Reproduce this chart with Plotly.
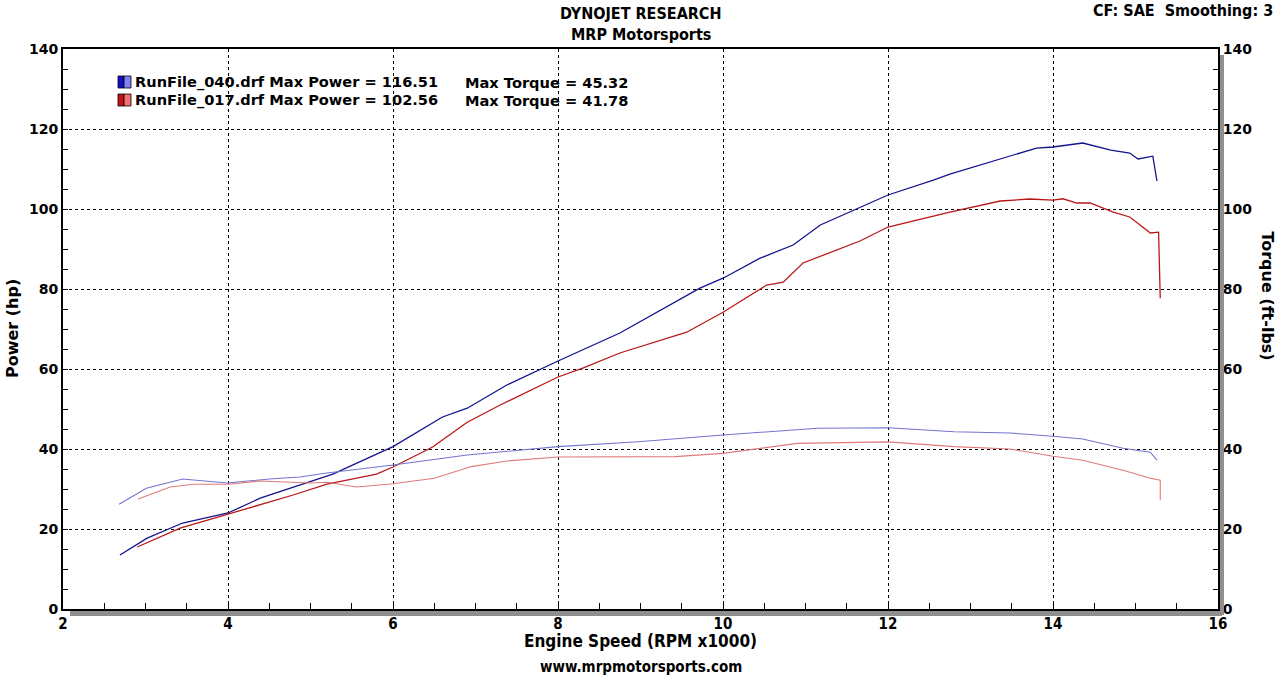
import plotly.graph_objects as go

# Run 040 (blue) - engine speed in RPM x1000
rpm_040_power = [2.69, 3.02, 3.45, 4.0, 4.39, 4.87, 5.27, 6.0, 6.6, 6.9, 7.38, 8.0, 8.75,
                 9.72, 10.0, 10.45, 10.85, 11.18, 11.58, 12.0, 12.55, 12.75, 13.52, 13.8,
                 14.0, 14.36, 14.7, 14.93, 15.03, 15.21, 15.26]
power_040 = [13.5, 17.7, 21.5, 24.0, 27.7, 31.0, 33.7, 40.6, 48.0, 50.2, 56.0, 62.0, 69.0,
             80.2, 82.7, 87.7, 91.0, 96.0, 99.7, 103.5, 107.2, 108.7, 113.5, 115.2,
             115.5, 116.5, 114.7, 114.0, 112.5, 113.2, 107.0]
rpm_040_torque = [2.68, 3.01, 3.45, 3.99, 4.5, 4.87, 5.2, 5.84, 6.0, 6.9, 8.0, 8.97, 10.0,
                  11.15, 12.0, 12.8, 13.48, 14.0, 14.36, 14.85, 15.18, 15.26]
torque_040 = [26.2, 30.2, 32.5, 31.5, 32.5, 33.0, 34.0, 35.6, 36.0, 38.5, 40.6, 41.8, 43.5,
              45.2, 45.3, 44.3, 44.0, 43.2, 42.5, 40.2, 39.2, 37.2]

# Run 017 (red)
rpm_017_power = [2.9, 3.42, 4.0, 4.79, 5.2, 5.8, 6.0, 6.48, 6.9, 7.3, 8.0, 8.3, 8.75, 9.56,
                 10.0, 10.53, 10.73, 10.97, 11.66, 12.0, 12.75, 13.36, 13.72, 14.0, 14.12,
                 14.29, 14.45, 14.6, 14.73, 14.93, 15.18, 15.28, 15.3]
power_017 = [15.5, 20.2, 23.7, 28.5, 31.2, 33.7, 35.5, 40.5, 46.7, 51.0, 58.0, 60.2, 64.0,
             69.2, 74.2, 81.0, 81.7, 86.5, 92.0, 95.5, 99.2, 102.0, 102.5, 102.2, 102.56,
             101.5, 101.5, 100.2, 99.2, 98.0, 94.0, 94.2, 77.7]
rpm_017_torque = [2.91, 3.3, 3.58, 4.0, 4.39, 5.0, 5.2, 5.56, 6.0, 6.5, 6.95, 7.38, 8.0,
                  9.42, 10.0, 10.9, 12.0, 12.8, 13.48, 14.0, 14.36, 14.85, 15.18, 15.3, 15.3]
torque_017 = [27.5, 30.5, 31.2, 31.2, 32.0, 31.5, 31.7, 30.5, 31.3, 32.7, 35.6, 37.0, 38.0,
              38.1, 38.9, 41.4, 41.78, 40.6, 40.0, 38.2, 37.2, 34.7, 32.7, 32.2, 27.2]

run_names = ["RunFile_040.drf", "RunFile_017.drf"]
max_power = [116.51, 102.56]
max_torque = [45.32, 41.78]

TITLE_FONT = "DejaVu Sans Condensed"
TEXT_FONT = "DejaVu Sans"

fig = go.Figure()

# torque lines first (lighter), then power lines on top
fig.add_trace(go.Scatter(x=rpm_040_torque, y=torque_040, mode="lines", yaxis="y2",
                         line=dict(color="#7474d0", width=1.1)))
fig.add_trace(go.Scatter(x=rpm_017_torque, y=torque_017, mode="lines", yaxis="y2",
                         line=dict(color="#e07a7a", width=1.1)))
fig.add_trace(go.Scatter(x=rpm_040_power, y=power_040, mode="lines",
                         line=dict(color="#14148c", width=1.3)))
fig.add_trace(go.Scatter(x=rpm_017_power, y=power_017, mode="lines",
                         line=dict(color="#b81818", width=1.3)))

tick_font = dict(family=TEXT_FONT, size=14, color="black", weight="bold")

fig.update_layout(
    width=1280,
    height=676,
    margin=dict(l=63, r=62, t=49, b=67),
    paper_bgcolor="white",
    plot_bgcolor="white",
    showlegend=False,
    xaxis=dict(
        range=[2, 16], dtick=2, showgrid=True, gridcolor="black", griddash="3px,3px",
        gridwidth=1, zeroline=False, showline=True, linecolor="black", linewidth=2,
        mirror=True, ticks="inside", ticklen=6, tickcolor="black",
        minor=dict(dtick=0.5, ticks="inside", ticklen=6, tickcolor="black", showgrid=False),
        tickfont=dict(family=TITLE_FONT, size=15, color="black", weight="bold"),
    ),
    yaxis=dict(
        range=[0, 140], dtick=20, showgrid=True, gridcolor="black", griddash="3px,3px",
        gridwidth=1, zeroline=False, showline=True, linecolor="black", linewidth=2,
        ticks="inside", ticklen=5, tickcolor="black",
        minor=dict(dtick=5, ticks="inside", ticklen=5, tickcolor="black", showgrid=False),
        tickfont=tick_font,
    ),
    yaxis2=dict(
        range=[0, 140], dtick=20, overlaying="y", side="right", showgrid=False,
        zeroline=False, showline=True, linecolor="black", linewidth=2,
        ticks="inside", ticklen=5, tickcolor="black",
        minor=dict(dtick=5, ticks="inside", ticklen=5, tickcolor="black"),
        tickfont=tick_font,
    ),
)

# gray drop shadow along bottom and right edges (empty annotation boxes)
shadow = dict(text=" ", xref="paper", yref="paper", showarrow=False, bgcolor="#8f8f8f",
              borderpad=0, borderwidth=0, font=dict(size=2, color="#8f8f8f"))
fig.add_annotation(x=7 / 1155, y=0, yshift=-1.5, xanchor="left", yanchor="top",
                   width=1152, height=5, **shadow)
fig.add_annotation(x=1, y=1 - 6 / 560, xshift=1.5, xanchor="left", yanchor="top",
                   width=4, height=560, **shadow)


def paper_text(text, x, y, xshift=0, yshift=0, size=14, family=TITLE_FONT,
               xanchor="center", angle=0):
    fig.add_annotation(text=f"<b>{text}</b>", xref="paper", yref="paper", x=x, y=y,
                       xshift=xshift, yshift=yshift, xanchor=xanchor, yanchor="middle",
                       textangle=angle, showarrow=False,
                       font=dict(family=family, size=size, color="black"))


# titles
paper_text("DYNOJET RESEARCH", 0.5, 1, yshift=36, size=16)
paper_text("MRP Motorsports", 0.5, 1, yshift=15, size=16)
paper_text("CF: SAE  Smoothing: 3", 1, 1, xshift=57, yshift=39, size=16, xanchor="right")
paper_text("Engine Speed (RPM x1000)", 0.5, 0, yshift=-32, size=17)
paper_text("www.mrpmotorsports.com", 0.5, 0, yshift=-58, size=15)
paper_text("Power (hp)", 0, 0.5, xshift=-51, size=16, family=TEXT_FONT, angle=-90)
paper_text("Torque (ft-lbs)", 1, 0.56, xshift=50, size=16, family=TEXT_FONT, angle=90)

# legend block
legend_colors = [("#1010c8", "#8080f0"), ("#c81010", "#f07070")]
legend_y = [82, 100]
for name, mp, mt, (dark, light), py in zip(run_names, max_power, max_torque,
                                          legend_colors, legend_y):
    yp = 1 - (py - 49) / 560
    fig.add_shape(type="rect", xref="paper", yref="paper", x0=(118 - 63) / 1155,
                  x1=(124 - 63) / 1155, y0=yp - 6 / 560, y1=yp + 6 / 560,
                  fillcolor=dark, line=dict(color="black", width=0.8))
    fig.add_shape(type="rect", xref="paper", yref="paper", x0=(124 - 63) / 1155,
                  x1=(131 - 63) / 1155, y0=yp - 6 / 560, y1=yp + 6 / 560,
                  fillcolor=light, line=dict(color="black", width=0.8))
    paper_text(f"{name} Max Power = {mp:.2f}", (133 - 63) / 1155, yp, size=14.6,
               family=TEXT_FONT, xanchor="left")
    paper_text(f"Max Torque = {mt:.2f}", (463 - 63) / 1155, yp, size=14.6,
               family=TEXT_FONT, xanchor="left")

fig.write_html("out.html", config={"displayModeBar": False},
               post_script="document.body.style.margin = '0';")
